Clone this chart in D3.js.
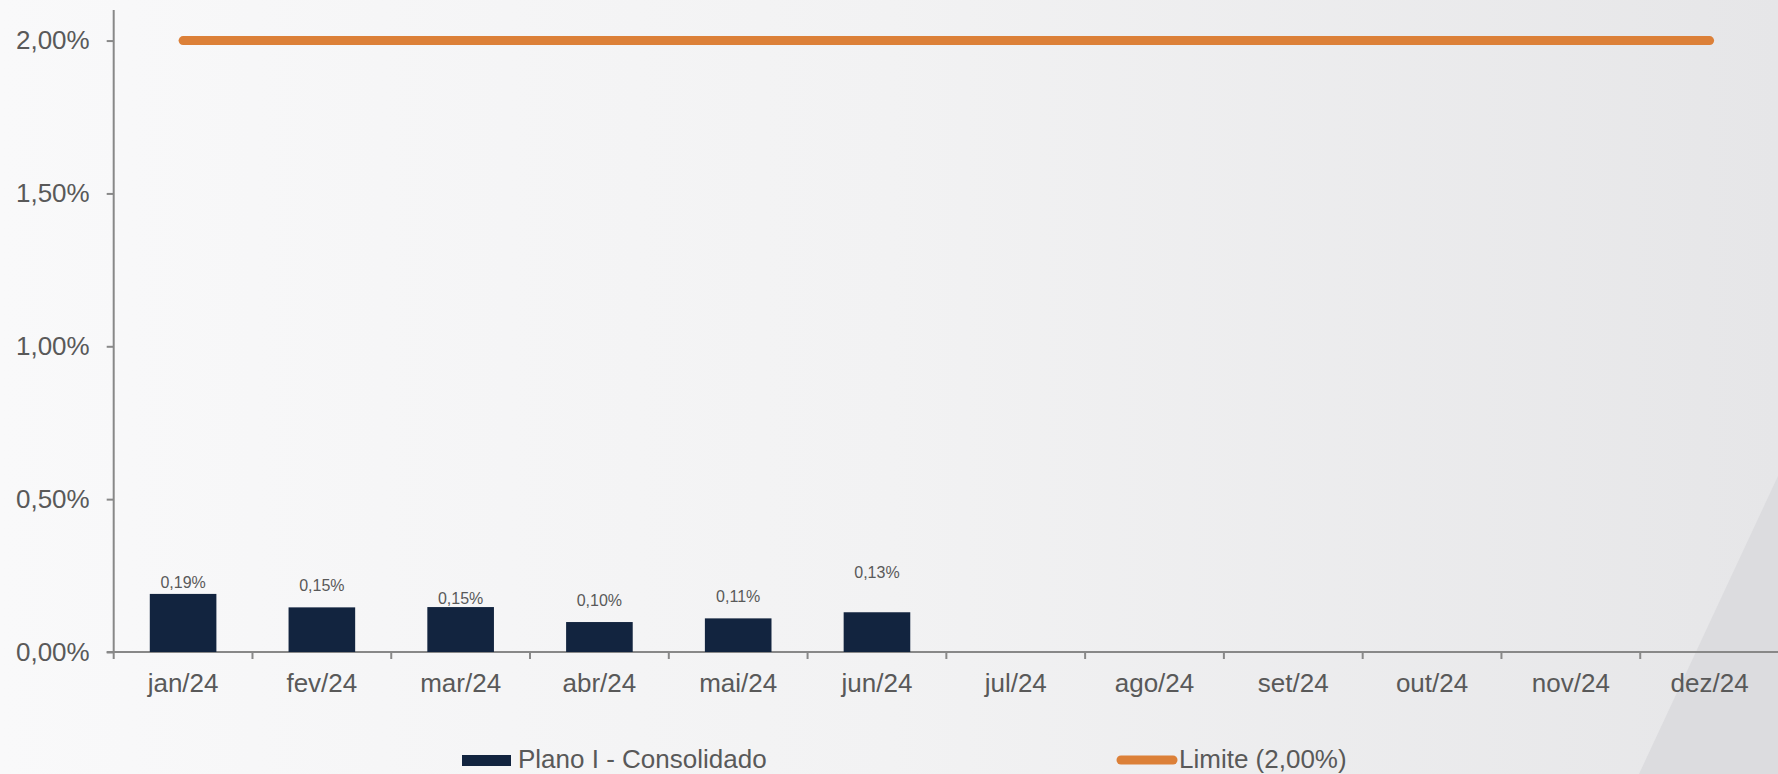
<html>
<head>
  <script src="https://d3js.org/d3.v7.min.js"></script>
  <style>
    body { margin: 0; font-family: "Liberation Sans", Arial, sans-serif; overflow: hidden; }
    .axis text { fill: #595959; font-size: 26px; font-family: "Liberation Sans", Arial, sans-serif; }
    .axis path, .axis line { stroke: #888; stroke-width: 2px; }
  </style>
</head>
<body>
  <svg id="chart" width="1778" height="774"></svg>
  <script>
    // data
    const months = ["jan/24", "fev/24", "mar/24", "abr/24", "mai/24", "jun/24",
                    "jul/24", "ago/24", "set/24", "out/24", "nov/24", "dez/24"];
    const planoValues = [0.19, 0.146, 0.147, 0.098, 0.11, 0.13];
    const limiteValues = [2, 2, 2, 2, 2, 2, 2, 2, 2, 2, 2, 2];
    const yTicks = [0, 0.5, 1, 1.5, 2];
    const seriesNames = ["Plano I - Consolidado", "Limite (2,00%)"];

    // label lift above each bar (layout only)
    const labelLift = [12, 22, 9, 22, 22, 40];

    const svg = d3.select("#chart");
    const width = +svg.attr("width");
    const height = +svg.attr("height");

    // background
    const defs = svg.append("defs");
    const grad = defs.append("linearGradient").attr("id", "bg")
      .attr("x1", "0%").attr("y1", "0%").attr("x2", "100%").attr("y2", "0%");
    grad.append("stop").attr("offset", "0%").attr("stop-color", "#f9f9fa");
    grad.append("stop").attr("offset", "50%").attr("stop-color", "#f2f2f3");
    grad.append("stop").attr("offset", "100%").attr("stop-color", "#e6e6e8");
    svg.append("rect").attr("width", width).attr("height", height).attr("fill", "url(#bg)");
    svg.append("polygon")
      .attr("points", "1778,476 1778,774 1639,774")
      .attr("fill", "#dcdcdf");

    const x = d3.scaleBand().domain(months).range([113.7, 1779]).padding(0);
    const y = d3.scaleLinear().domain([0, 2.1]).range([652, 10]);
    const fmt = v => d3.format(".2f")(v).replace(".", ",") + "%";

    // y axis
    const yAxis = svg.append("g").attr("class", "axis")
      .attr("transform", `translate(${x.range()[0]},0)`)
      .call(d3.axisLeft(y).tickValues(yTicks).tickSize(7).tickPadding(17).tickFormat(fmt));
    yAxis.select(".domain").attr("d", `M0,${y(2.1)}V${y(0)}`);

    // x axis with ticks at band boundaries
    const xAxis = svg.append("g").attr("class", "axis")
      .attr("transform", `translate(0,${y(0)})`);
    xAxis.append("line").attr("x1", x.range()[0] - 7).attr("x2", width).attr("y1", 0).attr("y2", 0);
    xAxis.selectAll("line.tick")
      .data(months)
      .join("line")
      .attr("class", "tick")
      .attr("x1", d => x(d)).attr("x2", d => x(d))
      .attr("y1", 0).attr("y2", 7);
    xAxis.selectAll("text")
      .data(months)
      .join("text")
      .attr("x", d => x(d) + x.bandwidth() / 2)
      .attr("y", 40)
      .attr("text-anchor", "middle")
      .text(d => d);

    // bars
    const barW = x.bandwidth() * 0.48;
    svg.selectAll("rect.bar")
      .data(planoValues)
      .join("rect")
      .attr("class", "bar")
      .attr("x", (d, i) => x(months[i]) + (x.bandwidth() - barW) / 2)
      .attr("y", d => y(d))
      .attr("width", barW)
      .attr("height", d => y(0) - y(d))
      .attr("fill", "#12243f");

    svg.selectAll("text.lbl")
      .data(planoValues)
      .join("text")
      .attr("class", "lbl")
      .attr("x", (d, i) => x(months[i]) + x.bandwidth() / 2)
      .attr("y", (d, i) => y(d) - labelLift[i])
      .attr("dy", "0.35em")
      .attr("text-anchor", "middle")
      .style("font-size", "16px")
      .style("fill", "#595959")
      .text(d => fmt(d));

    // limit line
    const line = d3.line()
      .x((d, i) => x(months[i]) + x.bandwidth() / 2)
      .y(d => y(d));
    svg.append("path")
      .datum(limiteValues)
      .attr("d", line)
      .attr("fill", "none")
      .attr("stroke", "#dc8038")
      .attr("stroke-width", 9)
      .attr("stroke-linecap", "round");

    // legend
    const legend = svg.append("g");
    legend.append("rect")
      .attr("x", 462).attr("y", 755).attr("width", 49).attr("height", 11)
      .attr("fill", "#12243f");
    legend.append("text")
      .attr("x", 518).attr("y", 768)
      .style("font-size", "26px").style("fill", "#595959")
      .text(seriesNames[0]);
    legend.append("line")
      .attr("x1", 1121).attr("x2", 1173).attr("y1", 760).attr("y2", 760)
      .attr("stroke", "#dc8038").attr("stroke-width", 9).attr("stroke-linecap", "round");
    legend.append("text")
      .attr("x", 1179).attr("y", 768)
      .style("font-size", "26px").style("fill", "#595959")
      .text(seriesNames[1]);
  </script>
</body>
</html>
